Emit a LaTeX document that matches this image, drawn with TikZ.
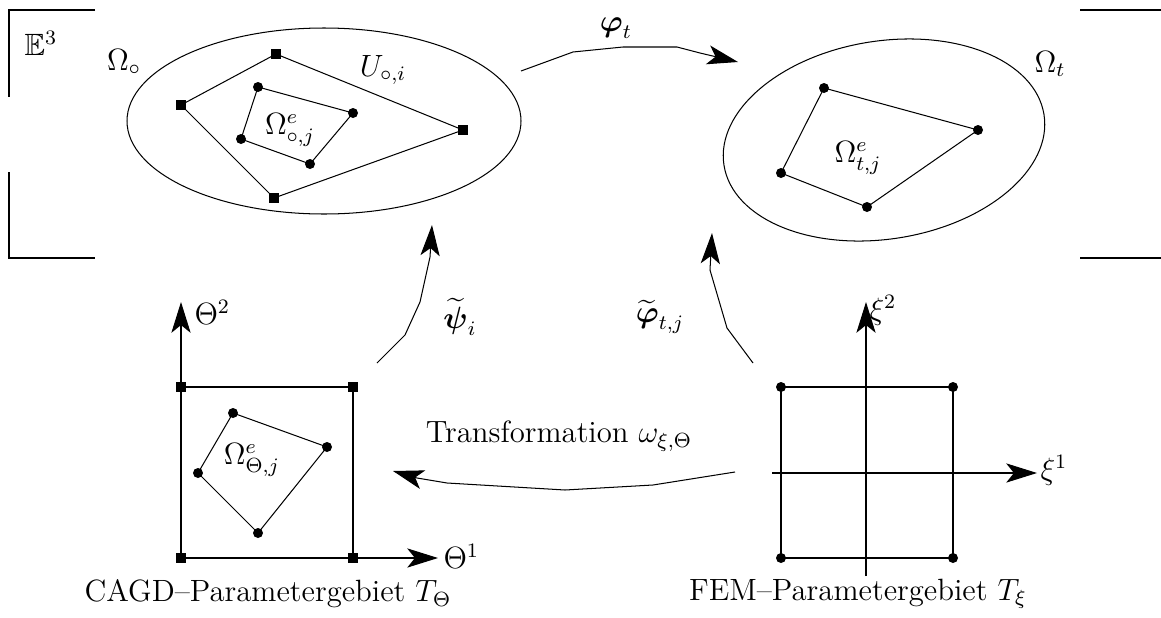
\documentclass[tikz,border=0pt]{standalone}
\usepackage{amsmath,amssymb}
\usetikzlibrary{arrows.meta}
\begin{document}
\begin{tikzpicture}[x=0.39pt,y=-0.39pt,line width=0.4pt,
  sq/.style={rectangle,fill=black,inner sep=0pt,minimum size=3.9pt},
  dot/.style={circle,fill=black,inner sep=0pt,minimum size=3.9pt},
  arr/.style={-{Stealth[length=12pt,width=7.5pt,inset=3pt]}},
  lbl/.style={inner sep=0pt,font=\large}]
\useasboundingbox (0,0) rectangle (1161,618);
% frame pieces
\draw (95,10) -- (9,10) -- (9,97);
\draw (9,172) -- (9,258) -- (95,258);
\draw (1080,10) -- (1161,10);
\draw (1080,258) -- (1161,258);
\node[lbl] (E3) at (41,43) {$\mathbb{E}^3$};
% left ellipse
\draw (324,121) ellipse [x radius=197,y radius=93];
\node[lbl] (Oo) at (124,62) {$\Omega_\circ$};
\node[lbl] (U) at (383,70) {$U_{\circ,i}$};
\node[sq] (a1) at (276,54) {};
\node[sq] (a2) at (181,105) {};
\node[sq] (a3) at (274,198) {};
\node[sq] (a4) at (463,130) {};
\draw (a1.center) -- (a4.center) -- (a3.center) -- (a2.center) -- (a1.center);
\node[dot] (b1) at (258,87) {};
\node[dot] (b2) at (353,113) {};
\node[dot] (b3) at (310,164) {};
\node[dot] (b4) at (241,139) {};
\draw (b1.center) -- (b2.center) -- (b3.center) -- (b4.center) -- (b1.center);
\node[lbl] (Oeo) at (290,130) {$\Omega^e_{\circ,j}$};
% right ellipse
\draw[rotate around={9:(884,140)}] (884,140) ellipse [x radius=162,y radius=99];
\node[lbl] (Ot) at (1050,64) {$\Omega_t$};
\node[dot] (c1) at (824,88) {};
\node[dot] (c2) at (978,130) {};
\node[dot] (c3) at (867,207) {};
\node[dot] (c4) at (781,173) {};
\draw (c1.center) -- (c2.center) -- (c3.center) -- (c4.center) -- (c1.center);
\node[lbl] (Oet) at (858,158) {$\Omega^e_{t,j}$};
% phi_t arrow
\coordinate (p0) at (521,71);
\coordinate (p1) at (738,62);
\draw[arr] (p0) -- (573,52) -- (623,47) -- (677,47) -- (700,53) -- (p1);
\node[lbl] (phit) at (616,28) {$\boldsymbol{\varphi}_t$};
% psi arrow
\coordinate (q0) at (377,363);
\coordinate (q1) at (432,225);
\draw[arr] (q0) -- (405,335) -- (420,302) -- (430,257) -- (q1);
\node[lbl] (psi) at (460,317) {$\widetilde{\boldsymbol{\psi}}_i$};
% phi_tj arrow
\coordinate (r0) at (753,363);
\coordinate (r1) at (712,233);
\draw[arr] (r0) -- (727,328) -- (710,270) -- (r1);
\node[lbl] (phitj) at (660,317) {$\widetilde{\boldsymbol{\varphi}}_{t,j}$};
% transformation arrow
\coordinate (t0) at (735,472);
\coordinate (t1) at (393,471);
\draw[arr] (t0) -- (653,485) -- (565,490) -- (447,483) -- (417,478) -- (t1);
\node[lbl] (trf) at (559,436) {Transformation $\omega_{\xi,\Theta}$};
% left parameter square
\node[sq] (s1) at (181,387) {};
\node[sq] (s2) at (353,387) {};
\node[sq] (s3) at (181,558) {};
\node[sq] (s4) at (353,558) {};
\coordinate (th2) at (181,302);
\coordinate (th1) at (438,558);
\draw[arr] (s3.center) -- (th2);
\draw[arr] (s3.center) -- (th1);
\draw (s1.center) -- (s2.center) -- (s4.center);
\node[lbl,anchor=west] (Th2) at (194,312) {$\Theta^2$};
\node[lbl,anchor=west] (Th1) at (443,556) {$\Theta^1$};
\node[dot] (d1) at (233,413) {};
\node[dot] (d2) at (327,447) {};
\node[dot] (d3) at (258,533) {};
\node[dot] (d4) at (198,473) {};
\draw (d1.center) -- (d2.center) -- (d3.center) -- (d4.center) -- (d1.center);
\node[lbl] (OeT) at (252,460) {$\Omega^e_{\Theta,j}$};
\node[lbl] (capT) at (268,594) {CAGD--Parametergebiet $T_\Theta$};
% right parameter square
\node[dot] (f1) at (781,387) {};
\node[dot] (f2) at (953,387) {};
\node[dot] (f3) at (781,558) {};
\node[dot] (f4) at (953,558) {};
\draw (f1.center) -- (f2.center) -- (f4.center) -- (f3.center) -- (f1.center);
\coordinate (x2a) at (866,576);
\coordinate (x2b) at (866,302);
\coordinate (x1a) at (772,473);
\coordinate (x1b) at (1037,473);
\draw[arr] (x2a) -- (x2b);
\draw[arr] (x1a) -- (x1b);
\node[lbl,anchor=west] (Xi2) at (869,310) {$\xi^2$};
\node[lbl,anchor=west] (Xi1) at (1040,470) {$\xi^1$};
\node[lbl] (capF) at (858,594) {FEM--Parametergebiet $T_\xi$};
\end{tikzpicture}
\end{document}
